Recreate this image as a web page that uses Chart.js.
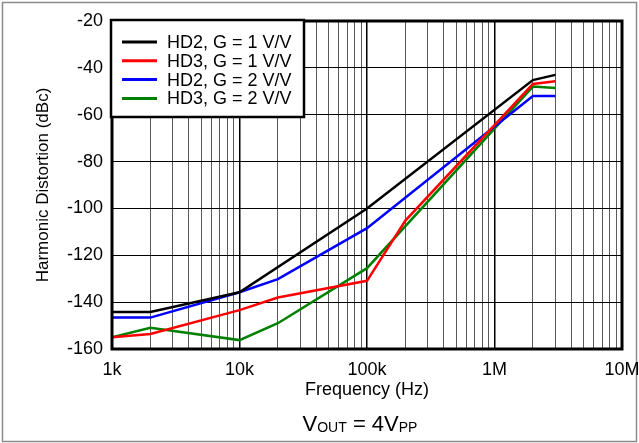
<!DOCTYPE html>
<html>
<head>
<meta charset="utf-8">
<script src="https://cdn.jsdelivr.net/npm/chart.js@4/dist/chart.umd.min.js"></script>
<style>
  html, body { margin: 0; padding: 0; background: #fff; }
  #wrap { width: 639px; height: 443px; position: relative; }
  canvas { display: block; }
</style>
</head>
<body>
<div id="wrap"><canvas id="c" width="639" height="443"></canvas></div>
<script>
const FONT = '"Liberation Sans", Arial, Helvetica, sans-serif';

// Series names and colours
const seriesLabels = ['HD2, G = 1 V/V', 'HD3, G = 1 V/V', 'HD2, G = 2 V/V', 'HD3, G = 2 V/V'];
const seriesColors = ['#000000', '#ff0000', '#0000ff', '#008000'];

// Frequency (Hz) / distortion (dBc) pairs for each curve
const hd2G1Freq = [1e3, 2e3, 1e4, 1e5, 2e6, 3e6];
const hd2G1Dbc  = [-144.2, -144.2, -135.8, -100, -45.2, -43];

const hd3G1Freq = [1e3, 2e3, 1e4, 2e4, 1e5, 2e5, 2e6, 3e6];
const hd3G1Dbc  = [-155, -153.6, -143.4, -138, -130.9, -105.2, -46.9, -45.7];

const hd2G2Freq = [1e3, 2e3, 1e4, 2e4, 1e5, 2e6, 3e6];
const hd2G2Dbc  = [-146.6, -146.6, -135.8, -130.2, -108.4, -52, -52];

const hd3G2Freq = [1e3, 2e3, 1e4, 2e4, 1e5, 2e6, 3e6];
const hd3G2Dbc  = [-155, -150.9, -156.2, -149, -125.5, -48, -48.6];

// Axis ticks
const decadeValues = [1e3, 1e4, 1e5, 1e6, 1e7];
const decadeLabels = ['1k', '10k', '100k', '1M', '10M'];
const yTicks = [-160, -140, -120, -100, -80, -60, -40, -20];

const freqs = [hd2G1Freq, hd3G1Freq, hd2G2Freq, hd3G2Freq];
const dbcs  = [hd2G1Dbc, hd3G1Dbc, hd2G2Dbc, hd3G2Dbc];

const datasets = seriesLabels.map((label, i) => ({
  label,
  data: freqs[i].map((f, k) => ({ x: f, y: dbcs[i][k] })),
  borderColor: seriesColors[i],
  backgroundColor: seriesColors[i],
  borderWidth: 2.5,
  pointRadius: 0,
  tension: 0,
  fill: false
}));

// Every 1..9 x 10^n grid position between 1k and 10M
const logGrid = [];
for (let d = 3; d < 7; d++) {
  for (let m = 1; m < 10; m++) logGrid.push(m * Math.pow(10, d));
}
logGrid.push(1e7);

const isDecade = v => Math.abs(Math.log10(v) - Math.round(Math.log10(v))) < 1e-9;

const decorPlugin = {
  id: 'decor',
  beforeDraw(chart) {
    const ctx = chart.ctx;
    ctx.save();
    ctx.fillStyle = '#ffffff';
    ctx.fillRect(0, 0, chart.width, chart.height);
    ctx.strokeStyle = '#8c8c8c';
    ctx.lineWidth = 1.5;
    ctx.strokeRect(2.5, 2.5, chart.width - 5, chart.height - 4);
    ctx.restore();
  },
  afterDraw(chart) {
    const ctx = chart.ctx;
    const a = chart.chartArea;
    ctx.save();
    // plot frame
    ctx.strokeStyle = '#000';
    ctx.lineWidth = 3;
    ctx.strokeRect(a.left, a.top, a.right - a.left, a.bottom - a.top);

    // legend box
    const lx = a.left - 1, ly = a.top - 1, lw = 193, lh = 97;
    ctx.fillStyle = '#fff';
    ctx.fillRect(lx, ly, lw, lh);
    ctx.lineWidth = 2.5;
    ctx.strokeRect(lx, ly, lw, lh);
    ctx.font = '18px ' + FONT;
    ctx.textBaseline = 'middle';
    ctx.textAlign = 'left';
    chart.data.datasets.forEach((ds, i) => {
      const y = ly + 22 + i * 18.8;
      ctx.strokeStyle = ds.borderColor;
      ctx.lineWidth = 3;
      ctx.beginPath();
      ctx.moveTo(lx + 11, y);
      ctx.lineTo(lx + 46, y);
      ctx.stroke();
      ctx.fillStyle = '#000';
      ctx.fillText(ds.label, lx + 56, y + 1);
    });

    // condition note under the axis title
    const parts = [
      { t: 'V', size: 22, dy: 0 },
      { t: 'OUT', size: 14, dy: 1 },
      { t: ' = 4V', size: 22, dy: 0 },
      { t: 'PP', size: 14, dy: 1 }
    ];
    let total = 0;
    parts.forEach(p => { ctx.font = p.size + 'px ' + FONT; p.w = ctx.measureText(p.t).width; total += p.w; });
    let x = 360 - total / 2;
    const base = 431;
    ctx.textBaseline = 'alphabetic';
    ctx.fillStyle = '#000';
    parts.forEach(p => {
      ctx.font = p.size + 'px ' + FONT;
      ctx.fillText(p.t, x, base + p.dy);
      x += p.w;
    });
    ctx.restore();
  }
};

new Chart(document.getElementById('c'), {
  type: 'line',
  data: { datasets },
  options: {
    responsive: false,
    animation: false,
    devicePixelRatio: 1,
    layout: { padding: { left: 0, right: 0, top: 21, bottom: 42 } },
    plugins: {
      legend: { display: false },
      tooltip: { enabled: false }
    },
    scales: {
      x: {
        type: 'logarithmic',
        min: 1e3,
        max: 1e7,
        afterFit(scale) {
          scale.height = 52;
          scale.paddingLeft = 0;
          scale.paddingRight = 17;
        },
        afterBuildTicks(scale) { scale.ticks = logGrid.map(v => ({ value: v })); },
        ticks: {
          autoSkip: false,
          maxRotation: 0,
          padding: 10,
          color: '#000',
          font: { family: FONT, size: 18 },
          callback(value) {
            const idx = decadeValues.findIndex(d => Math.abs(d - value) < 1e-6 * d);
            return idx >= 0 ? decadeLabels[idx] : '';
          }
        },
        grid: {
          drawTicks: false,
          color: ctx => (ctx.tick && isDecade(ctx.tick.value)) ? '#000' : '#5a5a5a',
          lineWidth: ctx => (ctx.tick && isDecade(ctx.tick.value)) ? 1.5 : 1
        },
        border: { display: false },
        title: {
          display: true,
          text: 'Frequency (Hz)',
          color: '#000',
          font: { family: FONT, size: 18 },
          padding: { top: 0, bottom: 0 }
        }
      },
      y: {
        type: 'linear',
        min: -160,
        max: -20,
        afterFit(scale) { scale.width = 112; },
        afterBuildTicks(scale) { scale.ticks = yTicks.map(v => ({ value: v })); },
        ticks: {
          padding: 9,
          color: '#000',
          font: { family: FONT, size: 18 }
        },
        grid: {
          drawTicks: false,
          color: '#000',
          lineWidth: 1
        },
        border: { display: false },
        title: {
          display: true,
          text: 'Harmonic Distortion (dBc)',
          color: '#000',
          font: { family: FONT, size: 17 },
          padding: { top: 33, bottom: 0 }
        }
      }
    }
  },
  plugins: [decorPlugin]
});
</script>
</body>
</html>
